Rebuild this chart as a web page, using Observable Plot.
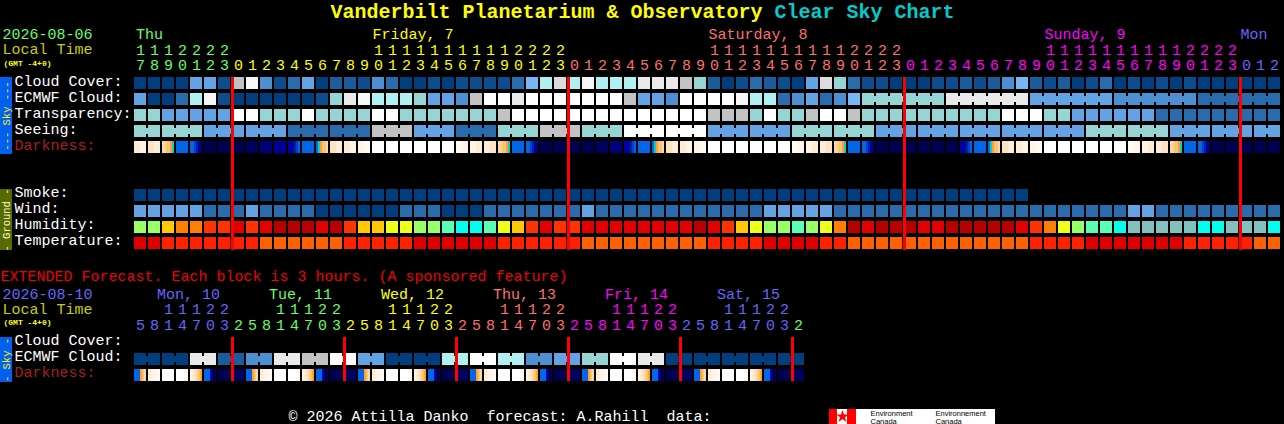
<!DOCTYPE html>
<html><head><meta charset="utf-8">
<script src="https://cdn.jsdelivr.net/npm/d3@7"></script>
<script src="https://cdn.jsdelivr.net/npm/@observablehq/plot@0.6"></script>
<style>html,body{margin:0;padding:0;background:#000;overflow:hidden}svg{display:block}</style>
</head><body><div id="chart"></div>
<script>
// ---- values: one letter per hourly block ----
const cloudCover   = "aaaaeebljd"+"bceannbdca"+"ababbbbcfh"+"mhjhhhkkkl"+"gnabcnbaem"+"gcbbaaabbn"+"bndfnbnabc"+"abababaaaaaa";
const ecmwfCloud   = "eaachjbaaa"+"aaabgkjhhh"+"geedliikii"+"iiiiileedi"+"iiijhhcdec"+"df"+"gggggg"+"kkkkkk"+"eeeeee"+"dddddd"+"cccccc";
const transparency = "ggeeeeeiig"+"ggiggggiig"+"ggggggliii"+"iiiiiiiiii"+"illlgiggli"+"il"+"gggggggggg"+"iii"+"gg"+"eeeeee"+"ccccccccc";
const seeing       = "gg"+"ggg"+"eee"+"eee"+"ccc"+"ccc"+"lll"+"eee"+"ccc"+"ggg"+"lll"+"ggg"+"iii"+"iii"+"eee"+"eee"+"ggg"+"ggg"+"eee"+"eee"+"eee"+"eee"+"eee"+"ggg"+"ggg"+"eee"+"eee"+"ee";
const darkness = ["32","4433","556678","a","aabcef","g","g","g","h","f","e","dddcba","a","a87665","4433","3322","21",
  "0","0","0","0","0","0","12","23","34","556678","a","aabcef","g","g","g","g","h","f","dddcba","a","a87665","4433","3322","21",
  "0","0","0","0","0","0","12","23","34","556678","a","aabcef","g","g","g","g","g","g","dddcba","a","a87665","4433","3322","21",
  "0","0","0","0","0","0","12","23","34","556678","a","aabcef","g","g","g","g","g"];
const smoke        = "aaaaaaaaaaaaaaaaaaaaaaaaaaaaaaaaaaaaaaaaaaaaaaaaaaaaaaaaaaaaaaaa";
const wind         = "eeeeeccc"+"ecccc"+"aaaaaa"+"ccc"+"aaa"+"ccccccc"+"e"+"cccccccccccc"+"eeeee"+"ccccccccccccccccccccc"+"ee"+"ccccccccc";
const humidity     = "LLAOOooror"+"RRRrRoAAyy"+"LLMCCMyAor"+"oorrrrrrrr"+"RroAyLLMLy"+"ORrRRRrrRR"+"RRRroOyLMM"+"CTTTTTCCTTTC";
const temperature  = "rrssssssst"+"tttttsssss"+"rrrrrrssss"+"sstttttttt"+"tssssrrrrs"+"sttttttttt"+"ttttssssrr"+"rrrrrssssstt";
const extEcmwf     = ["a","a","k","n","d","k","l","i","e","a","a","h","i","h","d","e","g","i","k","a","a","a","a","a"];
const extDarkness  = ["aaa765","3221","0","0001","234567","aaadhg","g","h",
                      "aaa765","3221","0","0001","234567","aaadhg","g","h",
                      "aaa765","3221","0","0001","234567","aaadhg","g","h",
                      "aaa765","3221","0","0001","234567","aaadhg","g","h",
                      "aaa765","3221","0","0001","234567","aaadhg","g","h",
                      "aaa765","3221","0","0001","234567","aaadhg","g","h"];
const mainHours = [17,18,19,20,21,22,23,0,1,2,3,4,5,6,7,8,9,10,11,12,13,14,15,16,17,18,19,20,21,22,23,0,1,2,3,4,5,6,7,8,9,10,11,12,13,14,15,16,17,18,19,20,21,22,23,0,1,2,3,4,5,6,7,8,9,10,11,12,13,14,15,16,17,18,19,20,21,22,23,0,1,2];
const extHours  = [5,8,11,14,17,20,23,2,5,8,11,14,17,20,23,2,5,8,11,14,17,20,23,2,5,8,11,14,17,20,23,2,5,8,11,14,17,20,23,2,5,8,11,14,17,20,23,2];
const mainDays = [{t:"Thu",c:"green",from:0,at:0.1},{t:"Friday, 7",c:"yellow",from:7,at:17},{t:"Saturday, 8",c:"salmon",from:31,at:41},{t:"Sunday, 9",c:"magenta",from:55,at:65},{t:"Mon",c:"blue",from:79,at:79}];
const extDays  = [{t:"Mon, 10",c:"blue",from:0,at:1.6},{t:"Tue, 11",c:"green",from:7,at:9.6},{t:"Wed, 12",c:"yellow",from:15,at:17.6},{t:"Thu, 13",c:"salmon",from:23,at:25.6},{t:"Fri, 14",c:"magenta",from:31,at:33.6},{t:"Sat, 15",c:"blue",from:39,at:41.6},{t:"",c:"green",from:47,at:49}];
const mainRules = [7,31,55,79];
const extRules  = [7,15,23,31,39,47];

// ---- colours ----
const sky = {a:"#003e7e",b:"#0d4d8d",n:"#1b5c9c",c:"#2a6cab",d:"#4d8fd0",e:"#63a3e3",f:"#78b6f6",g:"#97d5d5",h:"#b0f0f0",i:"#ffffff",j:"#f6f6f6",k:"#e9e9e9",m:"#dcdcdc",l:"#c2c2c2"};
const dark = {"0":"#ffffff","1":"#fffaf3","2":"#fff4e6","3":"#feedd6","4":"#fde3c0","5":"#fdd6a0","6":"#ffc070","7":"#ffa030","8":"#00d0d0","9":"#00a0e0",a:"#0068e8",b:"#0040c8",c:"#0020b0",d:"#0000a8",e:"#000098",f:"#000078",h:"#000060",g:"#000050"};
const hum = {R:"#b80000",r:"#e40000",o:"#ff3300",O:"#ff8000",A:"#ffc800",y:"#eeff18",L:"#99ff66",M:"#59ffb4",C:"#00ffee",T:"#83c0c0"};
const tmp = {r:"#e00000",s:"#ff2000",t:"#ff6000"};
const dayColor = {green:"#66ff66",yellow:"#ffff00",salmon:"#ff7070",magenta:"#ff00ff",blue:"#6666ff"};
const mono = "'Liberation Mono', monospace";

// ---- scales: x counts blocks, y counts rows ----
const W = 1284, H = 424, X0 = 134, Y0 = 77, PX = 14, PY = 16;
const colAt = px => (px - X0) / PX, rowAt = py => (py - Y0) / PY;
const cw = 12 / PX, ch = 12 / PY;
const rows = {cloud:0, ecmwf:1, transp:2, seeing:3, dark:4, smoke:7, wind:8, humid:9, temp:10, xCloud:rowAt(337), xEcmwf:rowAt(353), xDark:rowAt(369)};

const cells = [], links = [];
const put = (str, row, pal) => [...str].forEach((k, col) => cells.push({x1:col, x2:col+cw, y1:row, y2:row+ch, fill:pal[k]}));
const strips = (arr, row) => arr.forEach((s, col) => [...s].forEach((k, i) => cells.push({x1:col+i*cw/s.length, x2:col+(i+1)*cw/s.length, y1:row, y2:row+ch, fill:dark[k]})));
const link = (col, row, fill) => links.push({x1:col+cw, x2:col+1, y1:row+3/PY, y2:row+9/PY, fill});

put(cloudCover, rows.cloud, sky);
put(ecmwfCloud, rows.ecmwf, sky);
put(transparency, rows.transp, sky);
put(seeing, rows.seeing, sky);
strips(darkness, rows.dark);
put(smoke, rows.smoke, sky);
put(wind, rows.wind, sky);
put(humidity, rows.humid, hum);
put(temperature, rows.temp, tmp);
[...ecmwfCloud].forEach((k, i) => { if (i >= 52 && i < 81 && ecmwfCloud[i+1] === k) link(i, rows.ecmwf, sky[k]); });
[...seeing].forEach((k, i) => { if (i < 81 && (i + 1) % 3 !== 2) link(i, rows.seeing, sky[k]); });
put(extEcmwf.map(k => k + k).join(""), rows.xEcmwf, sky);
extEcmwf.forEach((k, i) => link(2*i, rows.xEcmwf, sky[k]));
strips(extDarkness, rows.xDark);

// ---- text ----
const txt = [];
const T = (text, px, py, fill, size=15, extra={}) => txt.push({text, x:colAt(px), y:rowAt(py), fill, size, ...extra});
T("Vanderbilt Planetarium & Observatory", 330, 17.5, "#ffff00", 20, {weight:"bold"});
T("Clear Sky Chart", 774, 17.5, "#00cccc", 20, {weight:"bold"});
T("2026-08-06", 2, 38, dayColor.green);
T("Local Time", 2, 53.5, "#cccc00");
T("(GMT -4+0)", 3, 65, "#ffff00", 8, {weight:"bold"});
const rowLabels = [["Cloud Cover:",85],["ECMWF Cloud:",101],["Transparency:",117],["Seeing:",133],["Darkness:",149,"#a52222"],["Smoke:",196],["Wind:",212],["Humidity:",228],["Temperature:",244],["Cloud Cover:",344.5],["ECMWF Cloud:",360.5],["Darkness:",376.5,"#a52222"]];
rowLabels.forEach(([t,y,c]) => T(t, 14, y, c || "#ffffff"));
T("EXTENDED Forecast. Each block is 3 hours. (A sponsored feature)", 0, 280, "#f00000");
T("2026-08-10", 2, 298, dayColor.blue);
T("Local Time", 2, 313.5, "#cccc00");
T("(GMT -4+0)", 3, 324, "#ffff00", 8, {weight:"bold"});
mainDays.forEach(d => T(d.t, X0 + d.at*PX, 38, dayColor[d.c]));
extDays.forEach(d => d.t && T(d.t, X0 + d.at*PX, 298, dayColor[d.c]));
const pick = (days, i) => dayColor[days.filter(d => d.from <= i).pop().c];
const digits = [];
const hourRows = (hours, days, yTens, yUnits) => hours.forEach((h, i) => {
  const fill = pick(days, i);
  if (h >= 10) digits.push({text:String(Math.floor(h/10)), x:i+6/PX, y:rowAt(yTens), fill});
  digits.push({text:String(h%10), x:i+6/PX, y:rowAt(yUnits), fill});
});
hourRows(mainHours, mainDays, 54, 69);
hourRows(extHours, extDays, 313.5, 329);
T("© 2026 Attilla Danko  forecast: A.Rahill  data:", 288, 420, "#ffffff");
const logoText = [["Environment",870,415],["Canada",870,423],["Environnement",935,415],["Canada",935,423]];
logoText.forEach(([t,x,y]) => T(t,x,y,"#000000",7.5,{font:"'Liberation Sans', sans-serif"}));

// ---- side bars, logo ----
const bars = [
  {x1:colAt(0),x2:colAt(12),y1:rowAt(77),y2:rowAt(154),fill:"#0060f0"},
  {x1:colAt(0),x2:colAt(12),y1:rowAt(189),y2:rowAt(250),fill:"#556b00"},
  {x1:colAt(0),x2:colAt(12),y1:rowAt(337),y2:rowAt(382),fill:"#0060f0"},
  {x1:colAt(829),x2:colAt(995),y1:rowAt(409),y2:rowAt(424),fill:"#ffffff"},
  {x1:colAt(829),x2:colAt(837),y1:rowAt(409),y2:rowAt(424),fill:"#ff0000"},
  {x1:colAt(847),x2:colAt(856),y1:rowAt(409),y2:rowAt(424),fill:"#ff0000"}
];
const sideText = [
  {text:"--- Sky ---", x:colAt(6), y:rowAt(115.5), fill:"#ffee00"},
  {text:"- Ground -", x:colAt(6), y:rowAt(219.5), fill:"#ffffcc"},
  {text:"- Sky -", x:colAt(6), y:rowAt(359.5), fill:"#ffee00"}
];
const redBars = [
  ...mainRules.map(c => ({x1:c-1/PX, x2:c+2/PX, y1:0, y2:rowAt(250), fill:"#ff0000"})),
  ...extRules.map(c => ({x1:c-1/PX, x2:c+2/PX, y1:rows.xCloud, y2:rowAt(381), fill:"#ff0000"}))
];
const rect = (data) => Plot.rect(data, {x1:"x1",x2:"x2",y1:"y1",y2:"y2",fill:"fill",inset:0,shapeRendering:"crispEdges"});

const chart = Plot.plot({
  width:W, height:H, margin:0, marginLeft:0, marginRight:0, marginTop:0, marginBottom:0,
  style:{background:"#000", display:"block"},
  x:{type:"linear", domain:[colAt(0), colAt(W)], range:[0,W], axis:null},
  y:{type:"linear", domain:[rowAt(0), rowAt(H)], range:[0,H], axis:null},
  color:{type:"identity"},
  marks:[
    rect(bars),
    rect(cells),
    rect(links),
    rect(redBars),
    Plot.dot([{x:colAt(842), y:rowAt(416)}], {x:"x", y:"y", r:4, symbol:"star", fill:"#ff0000"}),
    Plot.text(digits, {x:"x", y:"y", text:"text", fill:"fill", fontFamily:mono, fontSize:15, textAnchor:"middle", lineAnchor:"bottom"}),
    ...d3.groups(txt, d => `${d.size}|${d.weight||""}|${d.font||mono}`).map(([, g]) =>
      Plot.text(g, {x:"x", y:"y", text:"text", fill:"fill", fontFamily:g[0].font||mono, fontSize:g[0].size, fontWeight:g[0].weight||"normal", textAnchor:"start", lineAnchor:"bottom"})),
    Plot.text(sideText, {x:"x", y:"y", text:"text", fill:"fill", rotate:-90, fontFamily:mono, fontSize:10.5, textAnchor:"middle", lineAnchor:"middle"})
  ]
});
document.getElementById("chart").appendChild(chart);
</script></body></html>
